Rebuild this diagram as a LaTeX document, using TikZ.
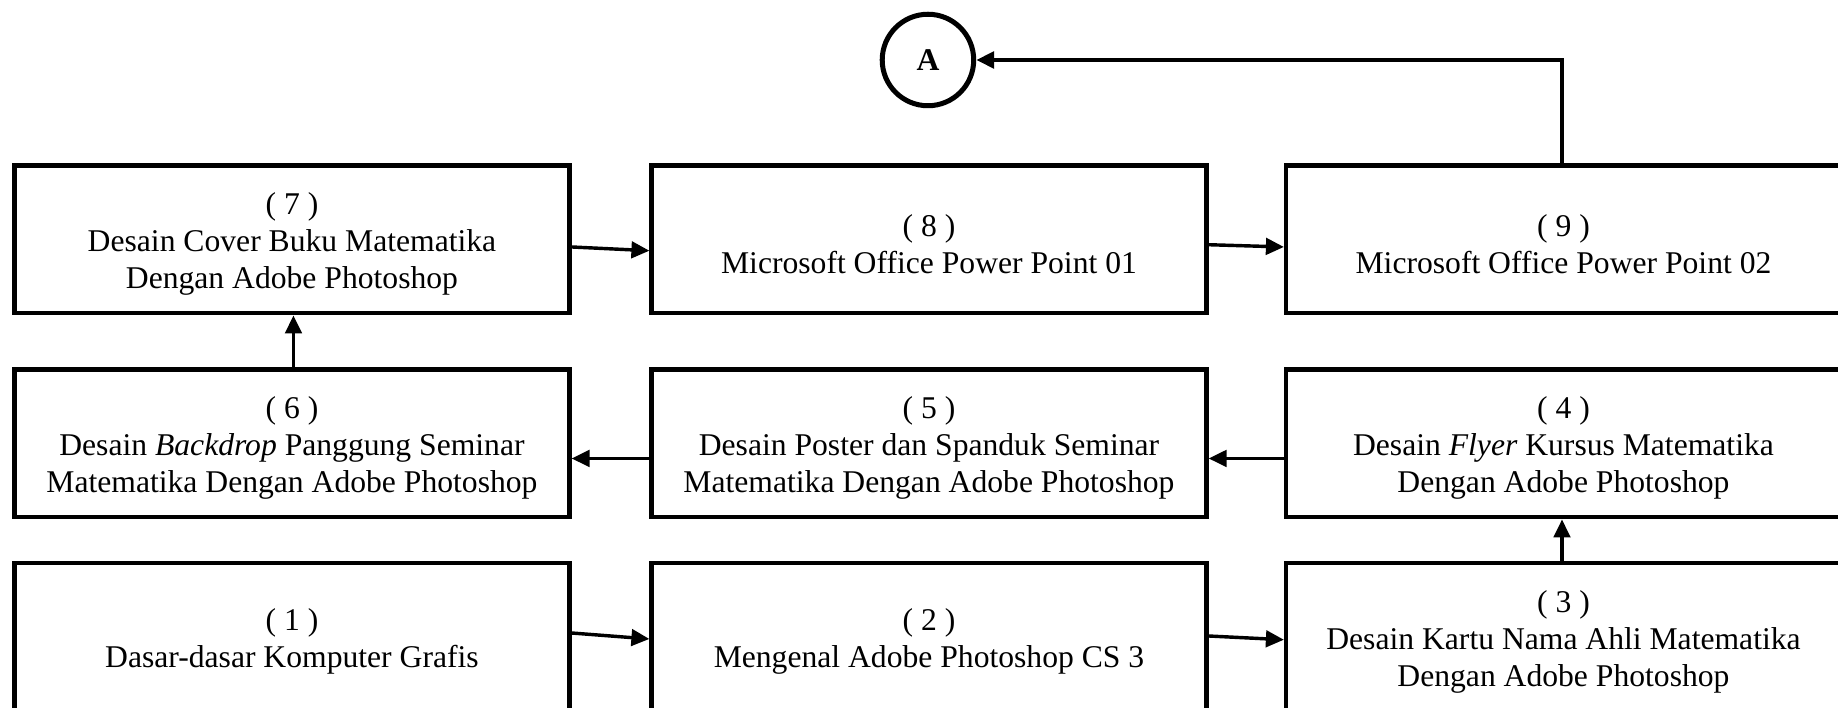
\documentclass[tikz,border=0pt]{standalone}
\usepackage{fontspec}
\setmainfont{Liberation Serif}
\usetikzlibrary{positioning,arrows.meta}

\begin{document}
\begin{tikzpicture} [kotak/.style={draw,line width=1.6pt,minimum width=7.4cm,minimum height=1.97cm,align=center,font=\fontsize{12}{14}\selectfont},
	panah/.style={line width=1.3pt,-{Triangle[length=0.24cm,width=0.22cm]}}]
\def\tinggi{\rule{0pt}{12pt}}
\useasboundingbox (0,0) rectangle (24.507,9.44);

% baris atas
\node[kotak] (b7) at (3.893,6.247) {\tinggi( 7 )\\Desain Cover Buku Matematika\\Dengan Adobe Photoshop};
\node[kotak] (b8) at (12.387,6.247) {\tinggi( 8 )\\Microsoft Office Power Point 01};
\node[kotak] (b9) at (20.847,6.247) {\tinggi( 9 )\\Microsoft Office Power Point 02};
% baris tengah
\node[kotak] (b6) at (3.893,3.527) {\tinggi( 6 )\\Desain \textit{Backdrop} Panggung Seminar\\Matematika Dengan Adobe Photoshop};
\node[kotak] (b5) at (12.387,3.527) {\tinggi( 5 )\\Desain Poster dan Spanduk Seminar\\Matematika Dengan Adobe Photoshop};
\node[kotak] (b4) at (20.847,3.527) {\tinggi( 4 )\\Desain \textit{Flyer} Kursus Matematika\\Dengan Adobe Photoshop};
% baris bawah
\node[kotak] (b1) at (3.893,0.95) {\tinggi( 1 )\\Dasar-dasar Komputer Grafis};
\node[kotak] (b2) at (12.387,0.95) {\tinggi( 2 )\\Mengenal Adobe Photoshop CS 3};
\node[kotak] (b3) at (20.847,0.95) {\tinggi( 3 )\\Desain Kartu Nama Ahli Matematika\\Dengan Adobe Photoshop};

\node[draw,circle,line width=1.9pt,minimum size=1.22cm,font=\fontsize{12}{14}\selectfont\bfseries] (A) at (12.373,8.64) {A};

\foreach \x/\y/\s/\t in {1/2/0.05/-0.03,2/3/0.01/-0.04,7/8/-0.1/-0.15,8/9/-0.07/-0.1}
	\draw[panah] ([yshift=\s cm]b\x.east) -- ([yshift=\t cm]b\y.west);
\foreach \x/\y in {4/5,5/6}
	\draw[panah] ([yshift=-0.2cm]b\x.west) -- ([yshift=-0.2cm]b\y.east);

\draw[panah] (b3.north -| 20.827,0) -- (b4.south -| 20.827,0);
\draw[panah] (b6.north -| 3.913,0) -- (b7.south -| 3.913,0);
\draw[panah,line width=1.6pt] (b9.north -| 20.827,0) |- (A.east);

\end{tikzpicture}
\end{document}
